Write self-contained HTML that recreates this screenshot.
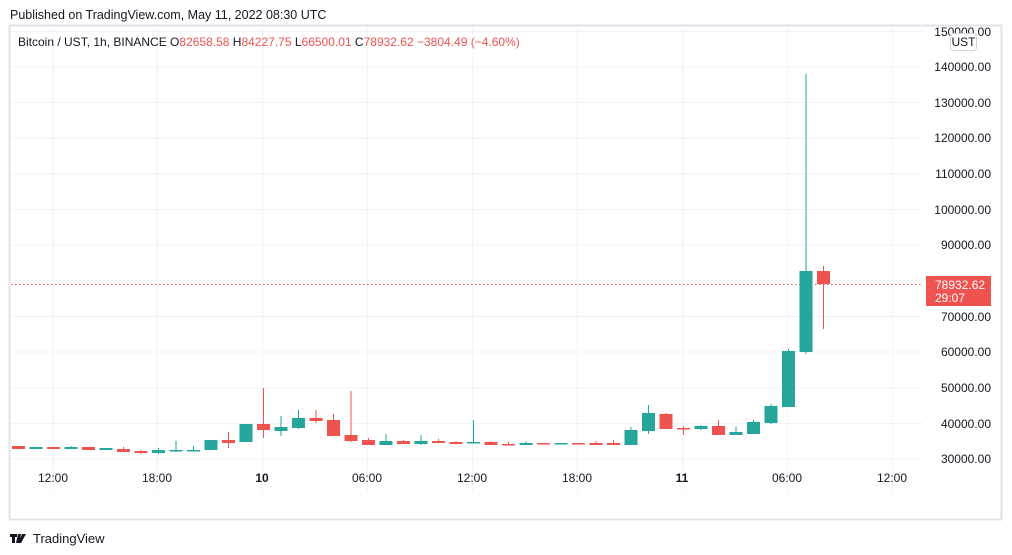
<!DOCTYPE html>
<html><head><meta charset="utf-8"><style>
html,body{margin:0;padding:0;background:#fff;}
svg{display:block;font-family:"Liberation Sans","DejaVu Sans",sans-serif;}
</style></head><body>
<svg width="1012" height="555" viewBox="0 0 1012 555" xmlns="http://www.w3.org/2000/svg">
<rect width="1012" height="555" fill="#fff"/>
<text x="10" y="19" font-size="12.5" fill="#131722">Published on TradingView.com, May 11, 2022 08:30 UTC</text>
<rect x="9.5" y="25.5" width="992" height="494" fill="none" stroke="#e0e3eb" stroke-width="2"/>
<g stroke="#f0f3fa" stroke-width="1">
<line x1="11" x2="923" y1="31.5" y2="31.5"/>
<line x1="11" x2="923" y1="67" y2="67"/>
<line x1="11" x2="923" y1="102.5" y2="102.5"/>
<line x1="11" x2="923" y1="138" y2="138"/>
<line x1="11" x2="923" y1="174" y2="174"/>
<line x1="11" x2="923" y1="209.5" y2="209.5"/>
<line x1="11" x2="923" y1="245" y2="245"/>
<line x1="11" x2="923" y1="281" y2="281"/>
<line x1="11" x2="923" y1="316.5" y2="316.5"/>
<line x1="11" x2="923" y1="352" y2="352"/>
<line x1="11" x2="923" y1="388" y2="388"/>
<line x1="11" x2="923" y1="423.5" y2="423.5"/>
<line x1="11" x2="923" y1="459" y2="459"/>
<line y1="27" y2="492" x1="53.5" x2="53.5"/>
<line y1="27" y2="492" x1="157.5" x2="157.5"/>
<line y1="27" y2="492" x1="262.5" x2="262.5"/>
<line y1="27" y2="492" x1="367.5" x2="367.5"/>
<line y1="27" y2="492" x1="472.5" x2="472.5"/>
<line y1="27" y2="492" x1="577.5" x2="577.5"/>
<line y1="27" y2="492" x1="682.5" x2="682.5"/>
<line y1="27" y2="492" x1="787.5" x2="787.5"/>
<line y1="27" y2="492" x1="892.5" x2="892.5"/>
</g>
<text x="18" y="46" font-size="12" fill="#131722">Bitcoin / UST, 1h, BINANCE  O<tspan fill="#ef5350">82658.58</tspan>  H<tspan fill="#ef5350">84227.75</tspan>  L<tspan fill="#ef5350">66500.01</tspan>  C<tspan fill="#ef5350">78932.62</tspan>  <tspan fill="#ef5350">−3804.49 (−4.60%)</tspan></text>
<g font-size="12" fill="#131722" text-anchor="end">
<text x="991" y="36">150000.00</text>
<text x="991" y="71">140000.00</text>
<text x="991" y="107">130000.00</text>
<text x="991" y="142">120000.00</text>
<text x="991" y="178">110000.00</text>
<text x="991" y="214">100000.00</text>
<text x="991" y="249">90000.00</text>
<text x="991" y="321">70000.00</text>
<text x="991" y="356">60000.00</text>
<text x="991" y="392">50000.00</text>
<text x="991" y="428">40000.00</text>
<text x="991" y="463">30000.00</text>
</g>
<rect x="950.5" y="33.5" width="26" height="17" rx="3" fill="#fff" stroke="#d1d4dc"/>
<text x="963.5" y="46" font-size="12" fill="#131722" text-anchor="middle">UST</text>
<line x1="11" x2="923" y1="284.5" y2="284.5" stroke="#ef5350" stroke-dasharray="1.5,2.5"/>
<rect x="926" y="276" width="65" height="30" fill="#ef5350"/>
<text x="935" y="289" font-size="12" fill="#fff">78932.62</text>
<text x="935" y="302" font-size="12" fill="#fff">29:07</text>
<g font-size="12" fill="#131722" text-anchor="middle">
<text x="53" y="482">12:00</text>
<text x="157" y="482">18:00</text>
<text x="262" y="482" font-weight="bold">10</text>
<text x="367" y="482">06:00</text>
<text x="472" y="482">12:00</text>
<text x="577" y="482">18:00</text>
<text x="682" y="482" font-weight="bold">11</text>
<text x="787" y="482">06:00</text>
<text x="892" y="482">12:00</text>
</g>
<g stroke-width="1">
<rect x="12" y="446" width="13" height="3" fill="#ef5350"/>
<rect x="29.5" y="447" width="13" height="2" fill="#26a69a"/>
<rect x="47" y="447" width="13" height="2" fill="#ef5350"/>
<line x1="71" x2="71" y1="446" y2="449" stroke="#26a69a"/><rect x="64.5" y="447" width="13" height="2" fill="#26a69a"/>
<rect x="82" y="447" width="13" height="3" fill="#ef5350"/>
<rect x="99.5" y="448" width="13" height="2" fill="#26a69a"/>
<line x1="123.5" x2="123.5" y1="447" y2="452" stroke="#ef5350"/><rect x="117" y="449" width="13" height="3" fill="#ef5350"/>
<line x1="141" x2="141" y1="450" y2="454" stroke="#ef5350"/><rect x="134.5" y="451" width="13" height="2" fill="#ef5350"/>
<line x1="158.5" x2="158.5" y1="448" y2="454" stroke="#26a69a"/><rect x="152" y="450" width="13" height="3" fill="#26a69a"/>
<line x1="176" x2="176" y1="441" y2="452" stroke="#26a69a"/><rect x="169.5" y="450" width="13" height="1.5" fill="#26a69a"/>
<line x1="193.5" x2="193.5" y1="446" y2="451" stroke="#26a69a"/><rect x="187" y="450" width="13" height="1.5" fill="#26a69a"/>
<rect x="204.5" y="440" width="13" height="10" fill="#26a69a"/>
<line x1="228.5" x2="228.5" y1="432" y2="448" stroke="#ef5350"/><rect x="222" y="440" width="13" height="3" fill="#ef5350"/>
<rect x="239.5" y="424" width="13" height="18" fill="#26a69a"/>
<line x1="263.5" x2="263.5" y1="388" y2="438" stroke="#ef5350"/><rect x="257" y="424" width="13" height="6" fill="#ef5350"/>
<line x1="281" x2="281" y1="416" y2="436" stroke="#26a69a"/><rect x="274.5" y="427" width="13" height="4" fill="#26a69a"/>
<line x1="298.5" x2="298.5" y1="410" y2="429" stroke="#26a69a"/><rect x="292" y="418" width="13" height="10" fill="#26a69a"/>
<line x1="316" x2="316" y1="410" y2="423" stroke="#ef5350"/><rect x="309.5" y="418" width="13" height="3" fill="#ef5350"/>
<line x1="333.5" x2="333.5" y1="414" y2="436" stroke="#ef5350"/><rect x="327" y="420" width="13" height="16" fill="#ef5350"/>
<line x1="351" x2="351" y1="391" y2="442" stroke="#ef5350"/><rect x="344.5" y="435" width="13" height="6" fill="#ef5350"/>
<line x1="368.5" x2="368.5" y1="438" y2="445" stroke="#ef5350"/><rect x="362" y="440" width="13" height="5" fill="#ef5350"/>
<line x1="386" x2="386" y1="434" y2="445" stroke="#26a69a"/><rect x="379.5" y="441" width="13" height="4" fill="#26a69a"/>
<line x1="403.5" x2="403.5" y1="440" y2="444" stroke="#ef5350"/><rect x="397" y="441" width="13" height="3" fill="#ef5350"/>
<line x1="421" x2="421" y1="435" y2="445" stroke="#26a69a"/><rect x="414.5" y="441" width="13" height="3" fill="#26a69a"/>
<line x1="438.5" x2="438.5" y1="439" y2="443" stroke="#ef5350"/><rect x="432" y="441" width="13" height="2" fill="#ef5350"/>
<line x1="456" x2="456" y1="441" y2="444" stroke="#ef5350"/><rect x="449.5" y="442" width="13" height="2" fill="#ef5350"/>
<line x1="473.5" x2="473.5" y1="420" y2="443" stroke="#26a69a"/><rect x="467" y="442" width="13" height="1.5" fill="#26a69a"/>
<line x1="491" x2="491" y1="441" y2="445" stroke="#ef5350"/><rect x="484.5" y="442" width="13" height="3" fill="#ef5350"/>
<line x1="508.5" x2="508.5" y1="442" y2="445" stroke="#ef5350"/><rect x="502" y="444" width="13" height="1.5" fill="#ef5350"/>
<line x1="526" x2="526" y1="441" y2="445" stroke="#26a69a"/><rect x="519.5" y="443" width="13" height="2" fill="#26a69a"/>
<rect x="537" y="443" width="13" height="1.5" fill="#ef5350"/>
<rect x="554.5" y="443" width="13" height="1.5" fill="#26a69a"/>
<rect x="572" y="443" width="13" height="1.5" fill="#ef5350"/>
<line x1="596" x2="596" y1="441" y2="445" stroke="#ef5350"/><rect x="589.5" y="443" width="13" height="2" fill="#ef5350"/>
<line x1="613.5" x2="613.5" y1="440" y2="445" stroke="#ef5350"/><rect x="607" y="443" width="13" height="2" fill="#ef5350"/>
<line x1="631" x2="631" y1="427" y2="445" stroke="#26a69a"/><rect x="624.5" y="430" width="13" height="15" fill="#26a69a"/>
<line x1="648.5" x2="648.5" y1="405" y2="434" stroke="#26a69a"/><rect x="642" y="413" width="13" height="18" fill="#26a69a"/>
<line x1="666" x2="666" y1="413" y2="429" stroke="#ef5350"/><rect x="659.5" y="414" width="13" height="15" fill="#ef5350"/>
<line x1="683.5" x2="683.5" y1="426" y2="435" stroke="#ef5350"/><rect x="677" y="428" width="13" height="1.5" fill="#ef5350"/>
<line x1="701" x2="701" y1="425" y2="430" stroke="#26a69a"/><rect x="694.5" y="426" width="13" height="3" fill="#26a69a"/>
<line x1="718.5" x2="718.5" y1="420" y2="435" stroke="#ef5350"/><rect x="712" y="426" width="13" height="9" fill="#ef5350"/>
<line x1="736" x2="736" y1="427" y2="435" stroke="#26a69a"/><rect x="729.5" y="432" width="13" height="3" fill="#26a69a"/>
<line x1="753.5" x2="753.5" y1="420" y2="434" stroke="#26a69a"/><rect x="747" y="422" width="13" height="12" fill="#26a69a"/>
<line x1="771" x2="771" y1="404" y2="424" stroke="#26a69a"/><rect x="764.5" y="406" width="13" height="17" fill="#26a69a"/>
<line x1="788.5" x2="788.5" y1="349" y2="407" stroke="#26a69a"/><rect x="782" y="351" width="13" height="56" fill="#26a69a"/>
<line x1="806" x2="806" y1="74" y2="354" stroke="#26a69a"/><rect x="799.5" y="271" width="13" height="81" fill="#26a69a"/>
<line x1="823.5" x2="823.5" y1="266" y2="329" stroke="#ef5350"/><rect x="817" y="271" width="13" height="13" fill="#ef5350"/>
</g>
<path d="M10 534h7v3h-2v6h-3v-6h-2z M18 534h3l-2 9h-3z M22 534h4l-5 9h-3z" fill="#131722"/>
<text x="33" y="543" font-size="13" fill="#131722">TradingView</text>
</svg>
</body></html>
